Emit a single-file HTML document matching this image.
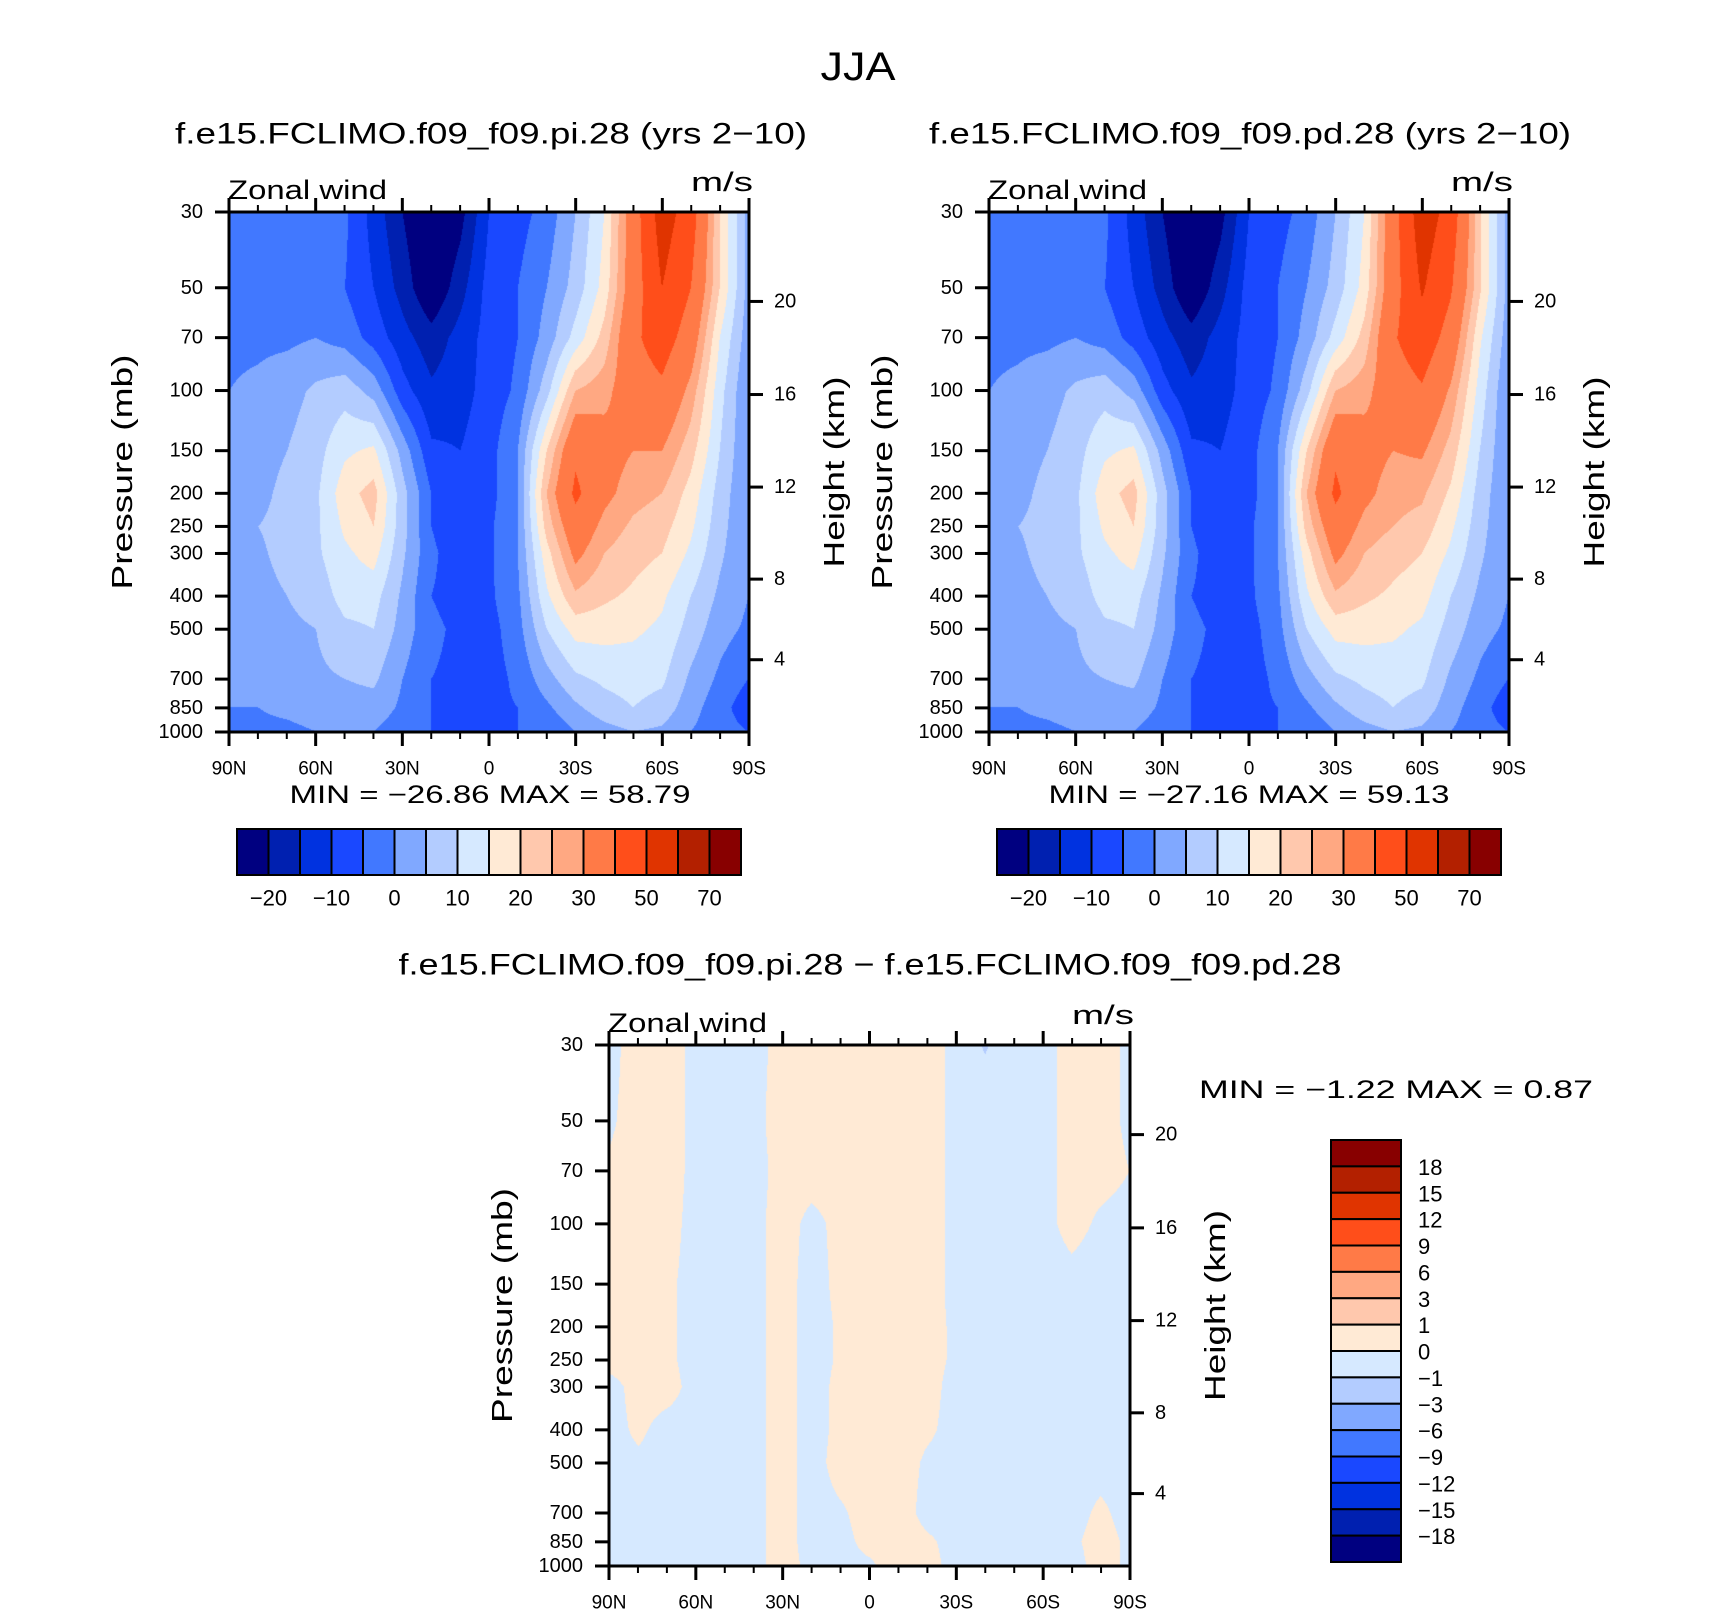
<!DOCTYPE html>
<html><head><meta charset="utf-8">
<style>
html,body{margin:0;padding:0;background:#fff;}
#wrap{position:relative;width:1710px;height:1611px;overflow:hidden;font-family:"Liberation Sans",sans-serif;}
canvas{position:absolute;}
svg{position:absolute;left:0;top:0;}
text{font-family:"Liberation Sans",sans-serif;fill:#000;}
</style></head>
<body>
<div id="wrap">
<canvas id="c1" width="520" height="520" style="left:229px;top:212px"></canvas>
<canvas id="c2" width="520" height="520" style="left:989px;top:212px"></canvas>
<canvas id="c3" width="521" height="521" style="left:609px;top:1045px"></canvas>
<svg id="ov" width="1710" height="1611"></svg>
</div>
<script>
// ---- data ----
const lats = ["90N","80N","70N","60N","50N","40N","30N","20N","10N","0","10S","20S","30S","40S","50S","60S","70S","80S","90S"];
const pLevels = [30,50,70,100,150,200,250,300,400,500,700,850,1000];
const pTickLabels = [30,50,70,100,150,200,250,300,400,500,700,850,1000];
const latTickLabels = ["90N","60N","30N","0","30S","60S","90S"];
const heightTicks = [20,16,12,8,4];
const topLevels = [-20,-15,-10,-5,0,5,10,15,20,25,30,40,50,60,70];
const topLevelLabels = ["−20","−10","0","10","20","30","50","70"];
const diffLevels = [-18,-15,-12,-9,-6,-3,-1,0,1,3,6,9,12,15,18];
const diffLevelLabels = ["−18","−15","−12","−9","−6","−3","−1","0","1","3","6","9","12","15","18"];
const piValues = [
[-3,-3,-3,-3,-4,-12,-20,-27,-22,-10,-7,-3,5,15,35,55,45,20,3],
[-3,-3,-3,-3,-5,-10,-17,-25,-17,-8,-5,0,7,17,35,50,40,20,3],
[-1,-1,-1,0,-2,-7,-13,-18,-13,-8,-5,2,12,22,38,45,35,15,2],
[0,1,3,6,8,3,-8,-14,-12,-8,-4,8,25,28,35,38,28,12,0],
[1,2,5,8,14,16,3,-9,-10,-7,0,20,38,33,30,30,22,10,0],
[1,3,7,9,18,22,7,-5,-10,-7,0,25,42,32,27,25,18,8,0],
[2,5,7,9,16,20,7,-5,-9,-6,0,22,36,28,24,22,16,7,0],
[2,4,7,9,14,17,6,-4,-8,-6,0,18,32,25,22,20,14,6,0],
[2,3,5,7,12,12,4,-5,-7,-6,-1,14,24,21,19,16,10,4,0],
[1,2,4,5,9,10,3,-4,-6,-7,-2,10,17,17,16,14,8,2,-1],
[0,1,2,4,5,6,0,-5,-6,-7,-4,3,9,11,12,11,4,-1,-5],
[0,0,1,2,3,3,-1,-5,-6,-6,-5,-1,4,8,10,8,2,-3,-8],
[0,-1,-1,0,0,0,-3,-5,-5,-5,-5,-4,0,3,5,4,0,-3,-5]];
const pdValues = [
[-3,-3,-3,-3,-4,-12,-20,-27,-22,-10,-7,-3,5,15,36,56,46,21,3],
[-3,-3,-3,-3,-5,-10,-17,-25,-17,-8,-5,0,7,17,36,51,41,21,3],
[-1,-1,-1,0,-2,-7,-13,-18,-13,-8,-5,2,12,22,39,46,36,16,2],
[0,1,3,6,8,3,-8,-14,-12,-8,-4,8,25,28,35,39,29,13,0],
[1,2,5,8,14,16,3,-9,-10,-7,0,20,38,33,30,31,23,10,0],
[1,3,7,9,18,22,7,-5,-10,-7,0,25,42,32,27,26,19,8,0],
[2,5,7,9,16,20,7,-5,-9,-6,0,22,36,28,25,23,16,7,0],
[2,4,7,9,14,17,6,-4,-8,-6,0,18,32,25,22,20,14,6,0],
[2,3,5,7,12,12,4,-5,-7,-6,-1,14,24,21,19,17,10,4,0],
[1,2,4,5,9,10,3,-4,-6,-7,-2,10,17,17,16,14,8,2,-1],
[0,1,2,4,5,6,0,-5,-6,-7,-4,3,9,11,12,11,4,-1,-5],
[0,0,1,2,3,3,-1,-5,-6,-6,-5,-1,4,8,10,8,2,-3,-8],
[0,-1,-1,0,0,0,-3,-5,-5,-5,-5,-4,0,3,5,4,0,-3,-5]];
const diffValues = [
[-0.2,0.3,0.3,-0.2,-0.2,-0.2,0.2,0.3,0.3,0.3,0.3,0.3,-0.2,-1.1,-0.3,-0.2,0.2,0.2,-0.1],
[-0.1,0.3,0.3,-0.2,-0.2,-0.2,0.3,0.3,0.3,0.3,0.3,0.3,-0.2,-0.3,-0.3,-0.2,0.2,0.2,-0.1],
[0.1,0.3,0.3,-0.2,-0.3,-0.3,0.3,0.3,0.3,0.3,0.3,0.3,-0.2,-0.3,-0.3,-0.2,0.2,0.2,0],
[0.2,0.3,0.2,-0.2,-0.3,-0.2,0.3,-0.2,0.2,0.3,0.3,0.3,-0.2,-0.3,-0.3,-0.2,0.2,-0.1,-0.2],
[0.2,0.3,0.1,-0.2,-0.3,-0.2,0.3,-0.3,0.2,0.3,0.3,0.3,-0.2,-0.3,-0.3,-0.3,-0.2,-0.3,-0.3],
[0.2,0.3,0.1,-0.2,-0.3,-0.2,0.3,-0.3,0.1,0.3,0.3,0.2,-0.1,-0.3,-0.3,-0.2,-0.3,-0.3,-0.3],
[0.2,0.3,0.1,-0.2,-0.3,-0.2,0.3,-0.3,0.1,0.3,0.3,0.2,-0.1,-0.3,-0.3,-0.2,-0.3,-0.3,-0.3],
[-0.2,0.2,0.2,-0.2,-0.3,-0.2,0.3,-0.3,0.2,0.3,0.3,0.2,-0.2,-0.3,-0.3,-0.1,-0.2,-0.3,-0.2],
[-0.2,0.1,-0.2,-0.2,-0.3,-0.2,0.3,-0.3,0.2,0.3,0.3,0.1,-0.2,-0.3,-0.3,-0.1,-0.2,-0.2,-0.2],
[-0.2,-0.1,-0.2,-0.2,-0.3,-0.2,0.3,-0.3,0.3,0.3,0.3,-0.1,-0.2,-0.3,-0.3,0,-0.2,-0.2,-0.2],
[-0.2,-0.3,-0.3,-0.3,-0.3,-0.2,0.3,-0.3,-0.1,0.3,0.3,-0.2,-0.3,-0.3,-0.3,-0.3,-0.2,0.1,-0.2],
[-0.1,-0.3,-0.3,-0.3,-0.3,-0.2,0.3,-0.3,-0.2,0.2,0.3,0.1,-0.2,-0.3,-0.3,-0.2,-0.1,0.2,-0.1],
[-0.2,-0.3,-0.3,-0.2,-0.3,-0.2,0.3,-0.2,-0.2,-0.1,0.3,0.2,-0.2,-0.3,-0.3,-0.2,-0.2,0.2,-0.1]];
const colors = ["#000080","#0020b0","#0032e0","#1a48ff","#4178ff","#80a8ff","#b3ccff","#d6e9ff","#ffead5","#ffc8ad","#ffa882","#ff7a47","#ff4e1a","#e03400","#b32000","#880000"];
const heightFrac = {20:0.172,16:0.351,12:0.529,8:0.706,4:0.861};

// ---- helpers ----
const NS="http://www.w3.org/2000/svg";
const ov=document.getElementById('ov');
function el(tag,attrs,parent){const e=document.createElementNS(NS,tag);for(const k in attrs)e.setAttribute(k,attrs[k]);(parent||ov).appendChild(e);return e;}
function txt(s,x,y,size,anchor,parent,rot,len){const t=el('text',{x:x,y:y,'font-size':size,'text-anchor':anchor||'middle','dominant-baseline':'central'},parent);if(rot)t.setAttribute('transform','rotate(-90 '+x+' '+y+')');if(len){t.setAttribute('textLength',len);t.setAttribute('lengthAdjust','spacingAndGlyphs');}t.textContent=s;return t;}
const lnTop=Math.log(30),lnBot=Math.log(1000);
function yFrac(p){return (Math.log(p)-lnTop)/(lnBot-lnTop);}
function classify(v,levels){let i=0;while(i<levels.length&&v>=levels[i])i++;return i;}
function hex(c){return [parseInt(c.substr(1,2),16),parseInt(c.substr(3,2),16),parseInt(c.substr(5,2),16)];}
const rgb=colors.map(hex);
const rowFr=pLevels.map(yFrac);
function fill(canvasId,vals,levels){
  const cv=document.getElementById(canvasId),ctx=cv.getContext('2d');
  const W=cv.width,H=cv.height,img=ctx.createImageData(W,H);
  const nC=lats.length-1;
  for(let y=0;y<H;y++){
    const fy=y/(H-1);let r=0;while(r<rowFr.length-2&&fy>rowFr[r+1])r++;
    const ty=(fy-rowFr[r])/(rowFr[r+1]-rowFr[r]);
    for(let x=0;x<W;x++){
      const fx=x/(W-1)*nC;let c=Math.min(Math.floor(fx),nC-1);const tx=fx-c;
      const v=(vals[r][c]*(1-tx)+vals[r][c+1]*tx)*(1-ty)+(vals[r+1][c]*(1-tx)+vals[r+1][c+1]*tx)*ty;
      const col=rgb[classify(v,levels)];const i=(y*W+x)*4;
      img.data[i]=col[0];img.data[i+1]=col[1];img.data[i+2]=col[2];img.data[i+3]=255;
    }
  }
  ctx.putImageData(img,0,0);
}
function axes(name,L,T,S){
  const g=el('g',{});
  
  
  el('rect',{x:L,y:T,width:S,height:S,fill:'none',stroke:'#000','stroke-width':3},g);
  for(let i=0;i<lats.length;i++){
    const x=L+S*i/(lats.length-1);const major=i%3===0;const len=major?14:7;
    el('line',{x1:x,y1:T+S,x2:x,y2:T+S+len,stroke:'#000','stroke-width':major?3:2},g);
    el('line',{x1:x,y1:T,x2:x,y2:T-len,stroke:'#000','stroke-width':major?3:2},g);
  }
  latTickLabels.forEach((s,i)=>{const t=txt(s,L+S*i/(latTickLabels.length-1),T+S+37,19,'middle',g);});
  pTickLabels.forEach(p=>{const y=T+S*yFrac(p);
    el('line',{x1:L-14,y1:y,x2:L,y2:y,stroke:'#000','stroke-width':3},g);
    const t=txt(String(p),L-26,y,20,'end',g);});
  heightTicks.forEach(h=>{const y=T+S*heightFrac[h];
    el('line',{x1:L+S,y1:y,x2:L+S+14,y2:y,stroke:'#000','stroke-width':3},g);
    const t=txt(String(h),L+S+25,y,20,'start',g);});
  const zw=txt('Zonal wind',L-1,T-22,27,'start',g,false,159);
  const ms=txt('m/s',L+S+4,T-30,27,'end',g,false,62);
  const py=txt('Pressure (mb)',L-106,T+S*0.5,29,'middle',g,true,235);
  const hy=txt('Height (km)',L+S+86,T+S*0.5,29,'middle',g,true,191);
}
function hbar(name,L,T,W,H){
  const g=el('g',{});
  
  
  const n=colors.length,bw=W/n;
  colors.forEach((c,i)=>{const r=el('rect',{x:L+i*bw,y:T,width:bw,height:H,fill:c,stroke:'#000','stroke-width':2},g);});
  topLevelLabels.forEach((s,k)=>{const t=txt(s,L+bw*(2*k+1),T+H+23,22,'middle',g);});
}
// ---- draw ----
fill('c1',piValues,topLevels);
fill('c2',pdValues,topLevels);
fill('c3',diffValues,diffLevels);
const t0=txt('JJA',858,67,40,'middle',null,false,75);
const t1=txt('f.e15.FCLIMO.f09_f09.pi.28 (yrs 2−10)',491,134,30,'middle',null,false,632);
const t2=txt('f.e15.FCLIMO.f09_f09.pd.28 (yrs 2−10)',1250,134,30,'middle',null,false,642);
const t3=txt('f.e15.FCLIMO.f09_f09.pi.28 − f.e15.FCLIMO.f09_f09.pd.28',870,965,30,'middle',null,false,943);
axes('pi',229,212,520);
axes('pd',989,212,520);
axes('diff',609,1045,521);
const m1=txt('MIN =  −26.86   MAX =   58.79',490,795,25,'middle',null,false,401);
const m2=txt('MIN =  −27.16   MAX =   59.13',1249,795,25,'middle',null,false,401);
const m3=txt('MIN =    −1.22   MAX =     0.87',1396,1090,25,'middle',null,false,394);
hbar('pi-colorbar',237,829,504,46);
hbar('pd-colorbar',997,829,504,46);
(function(){
  const g=el('g',{});
  
  
  const L=1331,T=1140,W=70,n=colors.length,bh=(1562-T)/n;
  for(let i=0;i<n;i++){const r=el('rect',{x:L,y:T+i*bh,width:W,height:bh,fill:colors[n-1-i],stroke:'#000','stroke-width':2},g);}
  for(let k=0;k<diffLevelLabels.length;k++){const s=diffLevelLabels[diffLevelLabels.length-1-k];const t=txt(s,1418,T+bh*(k+1)+1,22,'start',g);}
})();
</script>
</body></html>
